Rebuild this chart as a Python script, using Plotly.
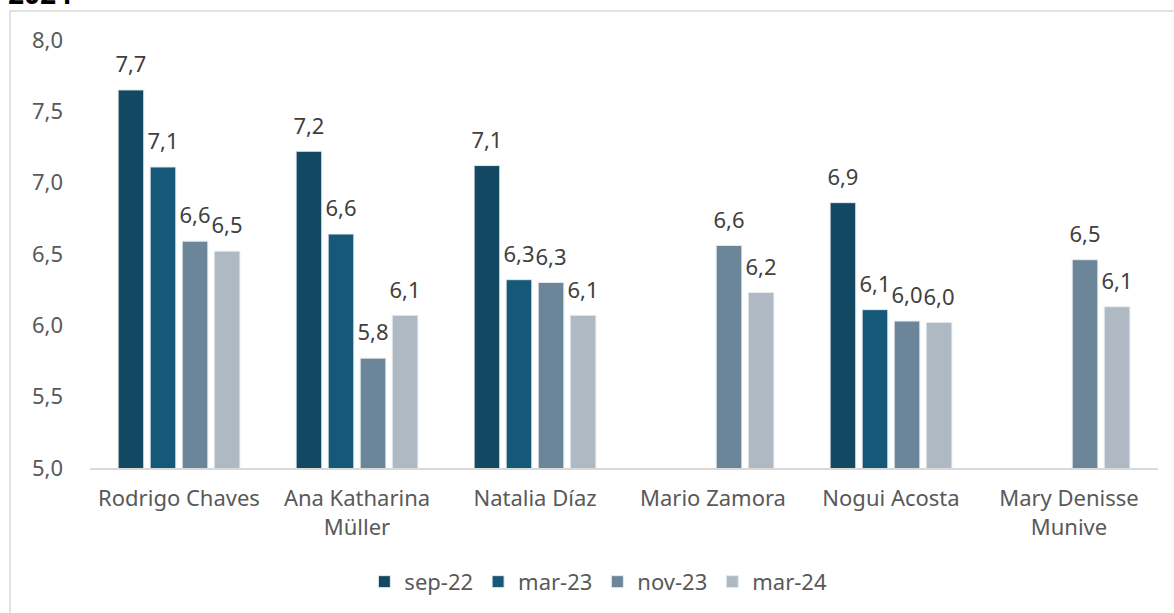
import plotly.graph_objects as go

categories = ["Rodrigo Chaves", "Ana Katharina<br>Müller", "Natalia Díaz",
              "Mario Zamora", "Nogui Acosta", "Mary Denisse<br>Munive"]
series_names = ["sep-22", "mar-23", "nov-23", "mar-24"]
sep22 = [7.65, 7.22, 7.12, None, 6.86, None]
mar23 = [7.11, 6.64, 6.32, None, 6.11, None]
nov23 = [6.59, 5.77, 6.30, 6.56, 6.03, 6.46]
mar24 = [6.52, 6.07, 6.07, 6.23, 6.02, 6.13]
series_values = [sep22, mar23, nov23, mar24]
colors = ["#124862", "#155877", "#6B8699", "#AFB9C4"]
y_ticks = [5.0, 5.5, 6.0, 6.5, 7.0, 7.5, 8.0]

FONT = "Noto Sans"
FS = 22

fig = go.Figure()
for name, vals, col in zip(series_names, series_values, colors):
    fig.add_trace(go.Bar(
        x=categories, y=vals, name=name,
        marker=dict(color=col, line=dict(color="#E6EAEE", width=1)),
        offsetgroup=name, alignmentgroup="a",
        hoverinfo="x+y",
    ))
for name, vals in zip(series_names, series_values):
    fig.add_trace(go.Scatter(
        x=categories, y=vals, mode="markers+text", name=name,
        offsetgroup=name, alignmentgroup="a",
        marker=dict(size=18, opacity=0, color="white"),
        text=[None if v is None else f"{v:.1f}".replace(".", ",") for v in vals],
        textposition="top center",
        textfont=dict(family=FONT, size=FS, color="#404040"),
        showlegend=False, hoverinfo="skip", cliponaxis=False,
    ))

fig.update_layout(
    width=1174, height=613,
    paper_bgcolor="white", plot_bgcolor="white",
    margin=dict(l=90, r=16, t=40, b=145, autoexpand=False),
    barmode="group", bargap=0.28, bargroupgap=0.2,
    scattermode="group", scattergap=0.28,
    separators=",.",
    font=dict(family=FONT, size=FS, color="#595959"),
    legend=dict(orientation="h", x=0.476, xanchor="center", y=-0.266, yanchor="middle",
                font=dict(family=FONT, size=FS, color="#595959"),
                itemwidth=30, traceorder="normal"),
    showlegend=True,
)
fig.update_xaxes(
    showline=True, linecolor="#D9D9D9", linewidth=1.5,
    showgrid=False, ticks="", ticklabelstandoff=10,
    tickfont=dict(family=FONT, size=FS, color="#595959"),
    fixedrange=True,
)
fig.update_yaxes(
    range=[5.0, 8.0], tickvals=y_ticks, tickformat=".1f",
    showgrid=False, zeroline=False, showline=False, ticks="",
    ticklabelstandoff=26,
    tickfont=dict(family=FONT, size=FS, color="#595959"),
    fixedrange=True,
)
# outer chart frame and cut-off title
fig.add_shape(type="rect", xref="paper", yref="paper",
              x0=-0.0749, x1=1.03, y0=-0.40, y1=1.0678,
              line=dict(color="#D9D9D9", width=1.5), fillcolor="rgba(0,0,0,0)", layer="below")
fig.add_annotation(text="<b>2024</b>", xref="paper", yref="paper",
                   x=-0.0787, y=1.061, xanchor="left", yanchor="bottom",
                   showarrow=False, font=dict(family=FONT, size=28, color="#000000"))

fig.write_html("out.html", config={"displayModeBar": False},
               post_script="document.body.style.margin='0';")
